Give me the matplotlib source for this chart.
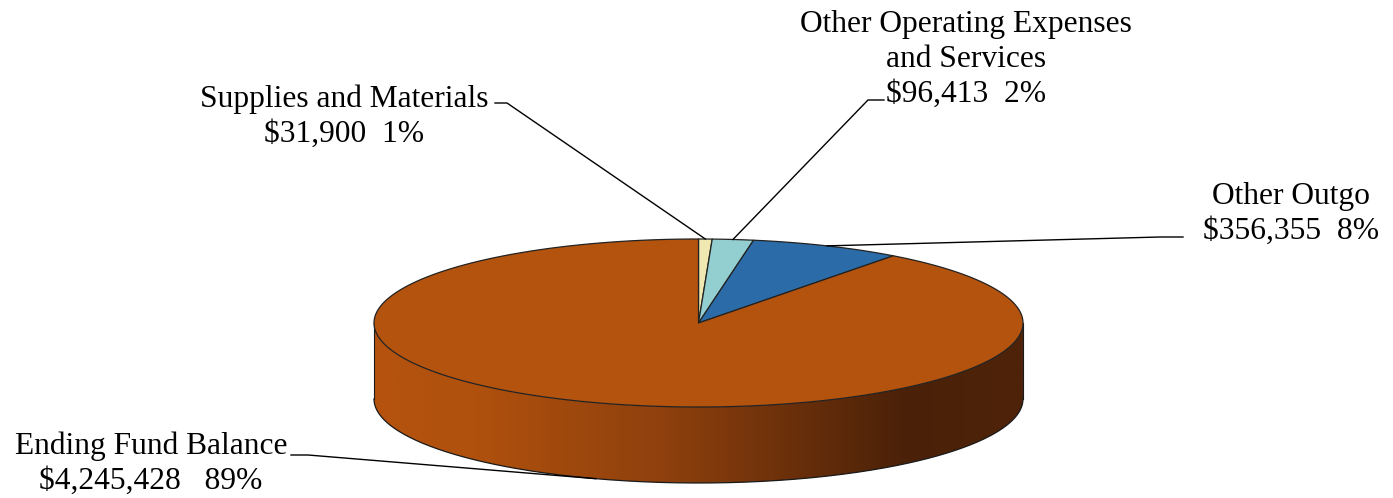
import numpy as np
import matplotlib
matplotlib.use("Agg")
import matplotlib.pyplot as plt
from matplotlib.patches import Polygon
from matplotlib.colors import LinearSegmentedColormap

# Data
categories = ["Supplies and Materials", "Other Operating Expenses\nand Services",
              "Other Outgo", "Ending Fund Balance"]
amounts = [31900, 96413, 356355, 4245428]
percent_labels = ["1%", "2%", "8%", "89%"]
amount_gaps = ["  ", "  ", "  ", "   "]
colors = ["#EFE8B0", "#93CFD0", "#2B6CA8", "#B4530E"]

# Figure in pixel coordinates
W, H = 1393, 498
fig = plt.figure(figsize=(W / 100, H / 100), dpi=100)
ax = fig.add_axes([0, 0, 1, 1])
ax.set_xlim(0, W)
ax.set_ylim(H, 0)
ax.axis("off")

cx, cy = 698.5, 323.0
rx, ry = 324.5, 84.0
depth = 76.0


def rim(theta_deg, dy=0.0):
    t = np.radians(theta_deg)
    return np.column_stack([cx + rx * np.cos(t), cy - ry * np.sin(t) + dy])


total = float(sum(amounts))
fracs = np.array(amounts) / total
ends = 90 - 360 * np.cumsum(fracs)
starts = np.concatenate([[90.0], ends[:-1]])

# Side wall (front half of the cylinder) with horizontal shading
front = np.linspace(180, 360, 300)
side_pts = np.vstack([rim(front), rim(front[::-1], depth)])
side = Polygon(side_pts, closed=True, facecolor="none", edgecolor="none")
ax.add_patch(side)
cmap = LinearSegmentedColormap.from_list(
    "wall", [(0.0, "#B5530E"), (0.15, "#B0510E"), (0.45, "#8E400D"),
             (0.82, "#4A2108"), (1.0, "#4E230A")])
grad = np.linspace(0, 1, 512)[None, :]
img = ax.imshow(grad, cmap=cmap, extent=[cx - rx, cx + rx, cy + ry + depth, cy - ry],
                aspect="auto", interpolation="bilinear", zorder=1)
img.set_clip_path(side)
ax.plot(*rim(front, depth).T, color="#1a1a1a", lw=0.9, zorder=2)
for xe in (cx - rx, cx + rx):
    ax.plot([xe, xe], [cy, cy + depth], color="#1a1a1a", lw=0.8, zorder=2)

# Top face wedges
for s, e, c in zip(starts, ends, colors):
    th = np.linspace(s, e, max(int(abs(s - e) * 2), 4))
    pts = np.vstack([[cx, cy], rim(th)])
    ax.add_patch(Polygon(pts, closed=True, facecolor=c, edgecolor="#222222",
                         lw=0.9, zorder=3, joinstyle="round"))

# Labels with leader lines
mids = (starts + ends) / 2
label_xy = [(344, 117), (966, 59), (1291, 214), (151, 464)]
elbows = [((495, 103), (507, 103)), ((884, 100), (868, 100)),
          ((1183, 237), (1160, 237)), ((291, 455), (308, 455))]
for i, (cat, amt, pct, gap) in enumerate(zip(categories, amounts, percent_labels, amount_gaps)):
    anchor = rim([mids[i]], depth if i == 3 else 0.0)[0]
    (x0, y0), (x1, y1) = elbows[i]
    ax.plot([x0, x1, anchor[0]], [y0, y1, anchor[1]], color="black", lw=1.0, zorder=4)
    txt = f"{cat}\n${amt:,}{gap}{pct}"
    ax.text(label_xy[i][0], label_xy[i][1], txt, ha="center", va="center",
            multialignment="center", fontsize=22.7, family="Liberation Serif",
            linespacing=1.27, color="black", zorder=5)

fig.savefig("out.png", dpi=100)
